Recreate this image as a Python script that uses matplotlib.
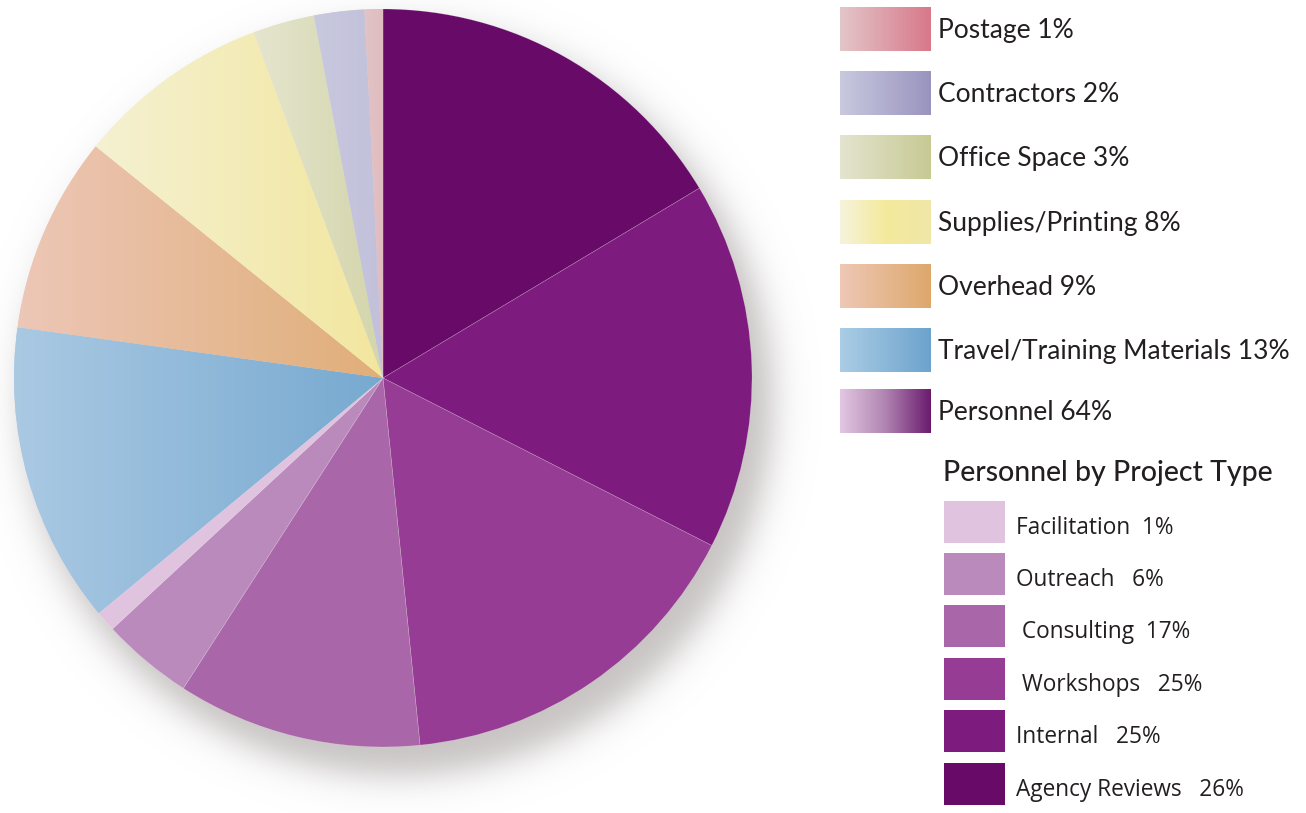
import numpy as np
import matplotlib
matplotlib.use("Agg")
import matplotlib.pyplot as plt
from matplotlib.colors import to_rgb
from matplotlib.patches import Rectangle

# ---------------- data ----------------
budget_categories = ["Postage", "Contractors", "Office Space", "Supplies/Printing",
                     "Overhead", "Travel/Training Materials", "Personnel"]
budget_pct = [1, 2, 3, 8, 9, 13, 64]

project_types = ["Facilitation", "Outreach", "Consulting", "Workshops",
                 "Internal", "Agency Reviews"]
project_pct = [1, 6, 17, 25, 25, 26]

# pie slices, clockwise from 12 o'clock (share of whole circle)
slice_names = ["Agency Reviews", "Internal", "Workshops", "Consulting", "Outreach",
               "Facilitation", "Travel/Training Materials", "Overhead",
               "Supplies/Printing", "Office Space", "Contractors", "Postage"]
slice_values = [16.4, 16.1, 15.9, 10.7, 4.0, 0.9, 13.2, 8.6, 8.5, 2.7, 2.2, 0.8]

# ---------------- styles ----------------
slice_colors = {
    "Agency Reviews": ["#680b68", "#680b68"],
    "Internal": ["#7e1b7e", "#7e1b7e"],
    "Workshops": ["#963c94", "#963c94"],
    "Consulting": ["#a967a9", "#a967a9"],
    "Outreach": ["#ba8abd", "#ba8abd"],
    "Facilitation": ["#e0c3df", "#e0c3df"],
    "Travel/Training Materials": ["#aac9e3", "#77a9d0"],
    "Overhead": ["#edc7b7", "#e0ae78"],
    "Supplies/Printing": ["#f5f1d2", "#f2e69e"],
    "Office Space": ["#e5e5cf", "#d3d5a9"],
    "Contractors": ["#c8c8df", "#c2c0da"],
    "Postage": ["#e3c3c6", "#dfbcc0"],
}
legend_grad = {
    "Postage": ["#e3c6c9", "#d8788a"],
    "Contractors": ["#c9c9df", "#9994bf"],
    "Office Space": ["#e4e4d0", "#c7ca93"],
    "Supplies/Printing": ["#f6f3dc", "#f4ea9c", "#f0e6a8"],
    "Overhead": ["#eec8b6", "#dea86c"],
    "Travel/Training Materials": ["#abcde5", "#6ca3cd"],
    "Personnel": ["#e2c7e2", "#b084b2", "#6b1b6e"],
}
project_colors = ["#e0c3df", "#ba8abd", "#a967a9", "#963c94", "#7e1b7e", "#680b68"]


def grad_img(cols, n=256):
    cols = [np.array(to_rgb(c)) for c in cols]
    t = np.linspace(0, 1, n)
    seg = np.linspace(0, 1, len(cols))
    out = np.zeros((1, n, 3))
    for k in range(3):
        out[0, :, k] = np.interp(t, seg, [c[k] for c in cols])
    return out


W, H = 1306, 813
fig = plt.figure(figsize=(W / 100, H / 100), dpi=100)
ax = fig.add_axes([0, 0, 1, 1])

cx, cy, R = 383, H - 378, 369

# shadow
yy, xx = np.mgrid[0:H, 0:W]
sx, sy = 383 + 15, 378 + 23
d = np.hypot(xx + 0.5 - sx, yy + 0.5 - sy)
alpha = 0.55 / (1 + np.exp((d - (R + 6)) / 10.0))
sh = np.zeros((H, W, 4))
sh[..., 0] = 0.60
sh[..., 1] = 0.57
sh[..., 2] = 0.57
sh[..., 3] = alpha
ax.imshow(sh, extent=[0, W, 0, H], origin="upper", zorder=0, interpolation="bilinear")

wedges, _ = ax.pie(slice_values, startangle=90, counterclock=False,
                   center=(cx, cy), radius=R, frame=True,
                   colors=[slice_colors[n][0] for n in slice_names],
                   wedgeprops=dict(linewidth=0.4, edgecolor=(1, 1, 1, 0.3)))

for w, n in zip(wedges, slice_names):
    w.set_zorder(1)
    c = slice_colors[n]
    if c[0] != c[1]:
        bb = w.get_path().get_extents()
        im = ax.imshow(grad_img(c), extent=[bb.x0, cx + 1, bb.y0, bb.y1],
                       aspect="auto", zorder=2, interpolation="bilinear")
        im.set_clip_path(w)

# main legend
lx0, lw, lh = 840, 91, 44
ytops = [7, 71, 135, 200, 264, 328, 389]
for cat, pct, yt in zip(budget_categories, budget_pct, ytops):
    yb = H - yt - lh
    ax.imshow(grad_img(legend_grad[cat]), extent=[lx0, lx0 + lw, yb, yb + lh],
              aspect="auto", zorder=3, interpolation="bilinear")
    ax.text(938, yb + lh / 2 - 1.5, f"{cat} {pct}%", fontsize=19, family="Lato",
            color="#231f20", va="center", ha="left", zorder=4)

# personnel legend
ax.text(943, H - 473, "Personnel by Project Type", fontsize=20.5, family="Lato",
        fontweight="medium", color="#231f20", va="center", ha="left", zorder=4)
p_ytops = [501, 553, 605, 658, 710, 763]
p_names = ["Facilitation  ", "Outreach   ", " Consulting  ", " Workshops   ",
           "Internal   ", "Agency Reviews   "]
for name, pct, col, yt in zip(p_names, project_pct, project_colors, p_ytops):
    yb = H - yt - 42
    ax.add_patch(Rectangle((944, yb), 61, 42, facecolor=col, edgecolor="none", zorder=3))
    ax.text(1016, yb + 21 - 6, f"{name}{pct}%", fontsize=16.3, family="Open Sans",
            color="#231f20", va="center", ha="left", zorder=4)

ax.set_xlim(0, W)
ax.set_ylim(0, H)
ax.set_aspect("equal")
ax.axis("off")
fig.savefig("out.png", dpi=100, facecolor="white")
